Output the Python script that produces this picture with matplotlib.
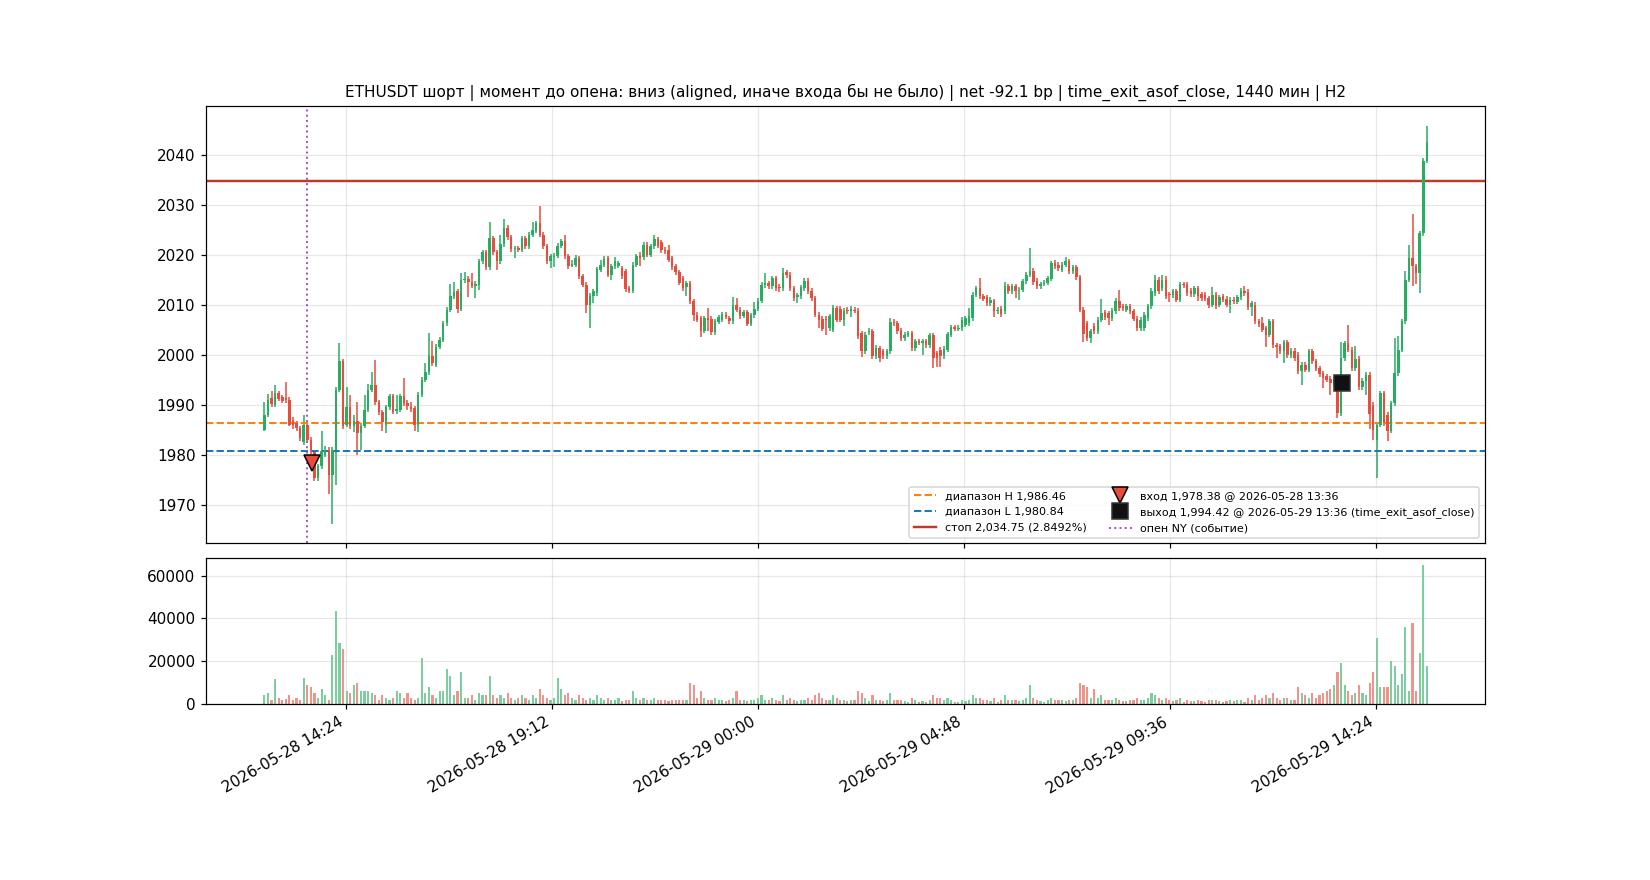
import matplotlib
matplotlib.use('Agg')
import matplotlib.pyplot as plt
import matplotlib.dates as md
import matplotlib.ticker as mt
import numpy as np
import pandas as pd

# 5-min свечи ETHUSDT
opn = [
    1985.0, 1988.0, 1991.3, 1990.0, 1992.3, 1991.5, 1991.3, 1991.0, 1986.8, 1986.3,
    1985.3, 1982.5, 1986.0, 1983.0, 1980.5, 1975.3, 1977.7, 1980.0, 1981.0, 1976.0,
    1981.0, 1993.0, 1998.7, 1986.0, 1989.5, 1985.7, 1986.7, 1984.3, 1985.8, 1989.0,
    1993.0, 1994.0, 1990.5, 1988.5, 1986.0, 1989.5, 1991.7, 1988.7, 1989.0, 1991.7,
    1990.3, 1989.5, 1989.3, 1986.0, 1992.0, 1995.0, 1996.5, 1999.8, 1998.0, 2001.6,
    2003.0, 2006.3, 2009.0, 2011.7, 2012.7, 2009.2, 2014.9, 2015.2, 2014.5, 2013.8,
    2014.0, 2018.7, 2020.5, 2017.5, 2023.3, 2020.5, 2018.7, 2022.1, 2025.3, 2023.5,
    2021.1, 2021.3, 2021.0, 2023.3, 2021.7, 2024.0, 2024.8, 2026.3, 2024.0, 2021.7,
    2018.7, 2019.5, 2019.8, 2021.8, 2022.7, 2019.7, 2017.8, 2018.0, 2019.3, 2015.7,
    2014.0, 2010.0, 2011.8, 2012.3, 2017.0, 2018.0, 2019.3, 2016.0, 2017.7, 2017.8,
    2017.3, 2016.7, 2013.3, 2012.8, 2018.0, 2019.7, 2019.5, 2022.0, 2020.0, 2021.7,
    2023.1, 2022.5, 2021.0, 2020.9, 2019.3, 2017.7, 2016.5, 2015.3, 2013.5, 2014.3,
    2010.7, 2008.0, 2007.3, 2004.8, 2007.3, 2007.2, 2004.5, 2006.6, 2007.0, 2008.0,
    2007.3, 2006.7, 2010.0, 2009.0, 2007.8, 2008.5, 2006.2, 2007.9, 2009.2, 2010.8,
    2013.9, 2014.3, 2013.7, 2015.3, 2013.6, 2013.3, 2016.5, 2016.0, 2013.3, 2011.5,
    2011.7, 2013.3, 2014.8, 2012.8, 2011.3, 2008.0, 2007.2, 2007.2, 2005.3, 2005.0,
    2009.3, 2009.2, 2007.0, 2009.0, 2008.7, 2009.0, 2008.8, 2004.3, 2000.7, 2004.5,
    2004.7, 1999.7, 2001.3, 2000.7, 1999.7, 2000.7, 2006.6, 2006.3, 2004.8, 2003.3,
    2004.0, 2004.3, 2001.3, 2002.7, 2002.4, 2002.7, 2001.9, 2003.9, 2000.3, 2001.0,
    1999.7, 2001.0, 2004.0, 2005.5, 2005.2, 2005.3, 2006.0, 2006.3, 2007.3, 2012.0,
    2013.3, 2011.7, 2011.5, 2010.3, 2010.7, 2008.7, 2009.2, 2008.7, 2013.7, 2012.7,
    2013.7, 2012.7, 2013.0, 2014.7, 2016.0, 2016.8, 2014.8, 2013.7, 2014.2, 2014.4,
    2015.2, 2018.3, 2018.0, 2017.0, 2018.0, 2018.7, 2016.7, 2017.5, 2015.5, 2009.0,
    2006.3, 2003.3, 2005.8, 2004.7, 2007.0, 2008.5, 2008.3, 2007.3, 2008.7, 2010.8,
    2009.7, 2009.0, 2009.7, 2008.7, 2007.2, 2005.3, 2005.3, 2007.3, 2009.7, 2012.3,
    2015.0, 2013.3, 2015.0, 2012.1, 2011.9, 2012.7, 2011.0, 2014.1, 2014.0, 2012.8,
    2012.1, 2013.3, 2012.1, 2012.0, 2011.3, 2010.0, 2012.0, 2010.0, 2011.7, 2011.2,
    2010.0, 2011.0, 2010.6, 2011.5, 2012.8, 2012.6, 2009.5, 2010.0, 2006.7, 2006.3,
    2005.3, 2004.0, 2006.7, 2001.9, 2001.7, 2000.7, 2002.5, 1999.9, 2000.8, 2000.0,
    1996.7, 1998.0, 1997.0, 2000.7, 1998.7, 1997.3, 1996.3, 1995.7, 1995.2, 1994.3,
    1994.7, 1988.3, 1999.3, 2002.3, 2001.0, 1997.3, 1999.2, 1993.5, 1994.8, 1996.0,
    1990.0, 1983.0, 1986.0, 1992.3, 1988.0, 1984.8, 1990.3, 1996.3, 2001.0, 2006.7,
    2015.0, 2019.3, 2017.7, 2016.3, 2024.3, 2038.8,
]
high = [
    1990.5, 1992.1, 1992.8, 1994.0, 1992.8, 1992.0, 1994.5, 1991.5, 1987.5, 1986.8,
    1985.8, 1988.0, 1986.5, 1983.5, 1981.0, 1978.2, 1984.7, 1981.7, 1981.5, 1981.5,
    1993.5, 2002.3, 1999.2, 1993.5, 1992.0, 1988.0, 1990.5, 1986.3, 1992.0, 1994.2,
    1996.5, 1999.0, 1991.0, 1989.0, 1990.0, 1992.2, 1992.2, 1992.0, 1992.2, 1995.3,
    1991.0, 1990.5, 1989.8, 1992.5, 1995.5, 1998.3, 2004.3, 2002.7, 2002.1, 2003.5,
    2006.8, 2009.5, 2014.1, 2014.5, 2013.2, 2016.3, 2016.5, 2015.7, 2016.3, 2014.7,
    2019.2, 2021.0, 2021.0, 2026.5, 2023.8, 2021.0, 2023.9, 2027.1, 2025.9, 2024.0,
    2021.8, 2021.8, 2023.8, 2023.8, 2024.5, 2026.6, 2026.8, 2029.7, 2024.5, 2022.2,
    2020.2, 2020.3, 2022.3, 2023.2, 2024.0, 2020.2, 2019.0, 2020.0, 2019.8, 2016.2,
    2014.5, 2012.3, 2013.2, 2017.6, 2019.0, 2019.7, 2019.8, 2018.2, 2019.5, 2018.8,
    2017.8, 2017.2, 2013.8, 2018.5, 2020.2, 2020.5, 2022.5, 2022.5, 2022.2, 2024.0,
    2023.6, 2023.0, 2021.5, 2022.0, 2019.8, 2018.2, 2017.0, 2015.8, 2014.8, 2014.8,
    2011.2, 2008.5, 2007.8, 2007.8, 2009.3, 2007.7, 2007.2, 2008.0, 2008.6, 2008.5,
    2007.8, 2011.5, 2011.3, 2009.5, 2009.0, 2009.0, 2008.4, 2010.5, 2011.3, 2014.5,
    2016.3, 2014.8, 2015.8, 2015.8, 2014.1, 2017.3, 2017.0, 2016.5, 2013.8, 2012.4,
    2014.0, 2015.3, 2015.3, 2013.3, 2011.8, 2008.5, 2007.7, 2007.7, 2008.2, 2010.0,
    2009.8, 2009.7, 2009.3, 2009.5, 2009.7, 2009.5, 2009.3, 2004.8, 2004.5, 2005.3,
    2005.2, 2002.0, 2001.8, 2001.2, 2001.2, 2007.3, 2007.1, 2006.8, 2005.3, 2004.5,
    2004.8, 2004.8, 2003.2, 2003.2, 2003.2, 2003.2, 2004.4, 2004.4, 2000.8, 2001.5,
    2001.7, 2004.6, 2006.0, 2006.0, 2005.9, 2007.5, 2007.8, 2009.3, 2012.5, 2013.8,
    2015.3, 2012.2, 2012.0, 2011.5, 2011.2, 2009.5, 2009.7, 2014.6, 2014.2, 2014.2,
    2014.2, 2013.5, 2015.2, 2016.5, 2021.3, 2017.3, 2015.3, 2014.6, 2014.9, 2015.8,
    2018.8, 2019.0, 2018.5, 2018.5, 2019.5, 2019.2, 2018.0, 2018.0, 2016.0, 2009.5,
    2006.8, 2005.2, 2006.3, 2007.5, 2011.2, 2009.0, 2008.8, 2009.3, 2011.3, 2013.0,
    2010.2, 2010.2, 2010.2, 2009.2, 2007.7, 2007.5, 2008.5, 2010.2, 2013.3, 2016.0,
    2015.5, 2016.0, 2015.7, 2012.6, 2013.2, 2013.2, 2014.6, 2014.6, 2014.5, 2013.3,
    2013.8, 2013.8, 2012.6, 2012.5, 2011.8, 2013.6, 2012.5, 2012.0, 2012.2, 2011.7,
    2011.5, 2011.5, 2012.0, 2013.3, 2013.7, 2013.1, 2010.8, 2010.5, 2007.2, 2007.5,
    2005.8, 2007.2, 2007.2, 2002.4, 2002.2, 2003.0, 2003.0, 2001.3, 2001.3, 2000.5,
    1998.5, 1998.5, 2001.2, 2001.2, 1999.2, 1997.8, 1996.8, 1996.2, 1995.7, 1995.5,
    1995.2, 2002.5, 2002.8, 2006.0, 2001.5, 2001.7, 1999.7, 1995.3, 1996.5, 1996.5,
    1990.5, 1986.5, 1992.8, 1992.8, 1988.5, 1990.8, 2003.3, 2003.7, 2007.2, 2016.8,
    2022.0, 2028.1, 2018.2, 2024.8, 2039.3, 2045.8,
]
low = [
    1984.8, 1987.5, 1989.6, 1989.5, 1990.8, 1990.3, 1990.4, 1985.8, 1985.2, 1984.8,
    1982.8, 1982.0, 1982.5, 1980.2, 1974.8, 1974.8, 1977.2, 1979.5, 1972.3, 1966.3,
    1974.0, 1992.5, 1985.2, 1985.5, 1985.2, 1984.5, 1980.0, 1981.0, 1985.3, 1988.5,
    1992.5, 1990.0, 1988.0, 1984.7, 1984.3, 1989.0, 1988.1, 1988.2, 1988.5, 1989.8,
    1989.0, 1988.5, 1984.7, 1984.5, 1991.5, 1994.5, 1996.0, 1997.8, 1997.5, 2001.1,
    2002.5, 2005.8, 2008.5, 2011.2, 2008.3, 2008.7, 2014.4, 2011.5, 2013.3, 2011.3,
    2013.0, 2018.2, 2017.0, 2017.0, 2020.0, 2017.0, 2018.2, 2021.6, 2023.0, 2020.6,
    2019.3, 2020.5, 2020.5, 2021.2, 2021.2, 2023.5, 2024.3, 2023.5, 2021.2, 2018.2,
    2017.3, 2017.5, 2019.3, 2021.3, 2019.2, 2017.2, 2017.5, 2017.5, 2015.2, 2013.5,
    2008.3, 2005.3, 2010.3, 2011.8, 2016.5, 2017.5, 2015.5, 2015.0, 2017.2, 2017.3,
    2015.2, 2012.6, 2012.3, 2012.3, 2017.5, 2017.8, 2019.0, 2019.5, 2019.5, 2021.2,
    2021.3, 2020.4, 2020.2, 2018.5, 2017.0, 2016.0, 2014.0, 2012.8, 2011.7, 2010.2,
    2006.8, 2006.5, 2003.6, 2004.3, 2004.7, 2004.0, 2003.9, 2006.1, 2006.5, 2007.1,
    2006.2, 2006.2, 2008.5, 2007.2, 2007.3, 2005.7, 2005.7, 2007.4, 2008.7, 2010.3,
    2013.4, 2013.2, 2013.2, 2012.8, 2012.5, 2012.8, 2015.4, 2012.8, 2010.8, 2010.3,
    2011.2, 2012.8, 2012.2, 2010.8, 2007.5, 2005.3, 2004.7, 2004.0, 2004.8, 2004.5,
    2006.5, 2006.5, 2005.8, 2008.2, 2007.6, 2008.3, 2003.2, 1999.5, 2000.2, 2004.0,
    1999.2, 1999.2, 1998.5, 1999.2, 1999.2, 2000.2, 2005.8, 2004.2, 2002.8, 2002.8,
    2003.5, 2000.8, 2000.8, 2001.9, 2000.0, 2001.4, 2001.4, 1997.3, 1997.5, 1997.5,
    1999.2, 2000.5, 2003.5, 2004.7, 2004.7, 2004.8, 2005.5, 2005.8, 2006.8, 2011.5,
    2011.2, 2010.7, 2009.8, 2009.8, 2007.5, 2008.2, 2007.6, 2008.2, 2012.2, 2012.2,
    2011.3, 2011.0, 2012.5, 2014.2, 2015.5, 2014.0, 2013.2, 2013.2, 2013.7, 2013.9,
    2014.7, 2017.2, 2016.8, 2016.5, 2017.5, 2016.2, 2016.2, 2015.0, 2008.5, 2002.6,
    2002.8, 2002.3, 2004.2, 2004.2, 2006.5, 2007.0, 2006.0, 2006.8, 2008.2, 2008.8,
    2008.8, 2008.5, 2008.2, 2006.7, 2004.8, 2004.8, 2004.8, 2006.8, 2009.2, 2011.8,
    2012.2, 2012.8, 2011.2, 2010.6, 2011.4, 2010.5, 2010.5, 2013.4, 2011.8, 2011.6,
    2011.6, 2010.7, 2010.8, 2010.7, 2009.3, 2009.5, 2009.2, 2009.5, 2010.5, 2009.5,
    2008.3, 2010.2, 2010.1, 2011.0, 2011.8, 2009.0, 2007.8, 2006.2, 2005.6, 2004.5,
    2001.5, 2003.5, 2001.4, 1999.3, 2000.2, 1998.3, 1999.4, 1999.4, 1998.8, 1996.2,
    1993.9, 1996.5, 1996.5, 1998.2, 1996.7, 1995.6, 1993.3, 1994.5, 1992.0, 1993.8,
    1987.3, 1987.7, 1998.8, 2000.5, 1996.8, 1996.8, 1993.0, 1993.0, 1992.0, 1985.2,
    1983.0, 1975.3, 1985.5, 1985.8, 1982.7, 1984.3, 1989.8, 1995.8, 2000.5, 2006.2,
    2014.5, 2013.7, 2014.1, 2012.3, 2023.8, 2038.3,
]
close = [
    1988.0, 1991.0, 1990.1, 1992.3, 1991.2, 1990.8, 1990.9, 1986.0, 1986.0, 1985.3,
    1983.3, 1986.0, 1983.0, 1980.7, 1975.3, 1977.7, 1980.7, 1981.0, 1976.0, 1981.0,
    1993.0, 1998.7, 1985.7, 1989.5, 1985.7, 1986.8, 1984.3, 1985.8, 1989.0, 1993.0,
    1994.0, 1990.5, 1988.5, 1986.5, 1989.5, 1991.7, 1988.6, 1989.2, 1991.7, 1990.3,
    1989.8, 1989.2, 1986.0, 1992.0, 1995.0, 1996.5, 1999.8, 1998.3, 2001.6, 2003.0,
    2006.3, 2009.0, 2011.7, 2012.5, 2009.1, 2014.9, 2015.2, 2014.5, 2013.8, 2014.2,
    2018.7, 2020.5, 2017.5, 2023.3, 2020.5, 2018.7, 2022.1, 2025.3, 2023.5, 2021.1,
    2021.3, 2021.0, 2023.3, 2021.7, 2024.0, 2025.0, 2026.3, 2024.0, 2021.7, 2018.7,
    2019.7, 2019.8, 2021.8, 2022.7, 2019.7, 2017.7, 2018.2, 2019.3, 2015.7, 2014.0,
    2010.0, 2011.8, 2012.7, 2017.1, 2018.0, 2019.2, 2016.0, 2017.7, 2018.7, 2018.3,
    2015.7, 2013.1, 2012.8, 2018.0, 2019.7, 2019.4, 2022.0, 2020.0, 2021.7, 2023.2,
    2021.8, 2020.9, 2020.7, 2019.0, 2017.5, 2016.5, 2014.3, 2013.3, 2014.3, 2010.7,
    2008.0, 2007.0, 2004.8, 2007.3, 2007.0, 2004.5, 2006.7, 2007.5, 2008.1, 2007.6,
    2006.7, 2010.0, 2009.0, 2007.7, 2008.5, 2006.2, 2007.9, 2009.2, 2010.8, 2014.0,
    2014.3, 2013.7, 2015.3, 2013.3, 2013.3, 2016.3, 2015.9, 2013.3, 2011.3, 2011.9,
    2013.5, 2014.8, 2012.7, 2011.3, 2008.0, 2007.0, 2005.2, 2007.0, 2007.7, 2009.3,
    2007.0, 2007.0, 2008.8, 2008.7, 2009.2, 2008.8, 2003.7, 2000.7, 2004.0, 2004.7,
    1999.7, 2001.3, 1999.3, 1999.7, 2000.7, 2006.5, 2006.3, 2004.7, 2003.3, 2004.0,
    2004.3, 2001.3, 2002.7, 2002.4, 2002.7, 2001.9, 2003.9, 1999.3, 1999.3, 1999.7,
    2001.2, 2004.1, 2005.5, 2005.2, 2005.4, 2007.0, 2007.3, 2007.7, 2012.0, 2013.3,
    2011.7, 2011.2, 2010.3, 2011.0, 2008.7, 2009.0, 2008.1, 2013.7, 2012.7, 2013.7,
    2012.7, 2013.0, 2014.7, 2016.0, 2016.8, 2014.5, 2013.7, 2014.1, 2014.4, 2015.3,
    2018.3, 2017.7, 2017.3, 2018.0, 2018.7, 2016.7, 2017.5, 2015.5, 2009.0, 2004.1,
    2003.3, 2004.7, 2004.7, 2007.0, 2008.3, 2007.5, 2007.3, 2008.8, 2010.8, 2009.3,
    2009.3, 2009.7, 2008.7, 2007.2, 2005.3, 2007.0, 2008.0, 2009.7, 2012.8, 2015.0,
    2012.7, 2015.0, 2011.7, 2011.9, 2012.7, 2011.0, 2014.1, 2013.9, 2012.3, 2012.1,
    2013.3, 2011.7, 2011.3, 2011.2, 2010.0, 2012.0, 2009.7, 2011.5, 2011.0, 2010.0,
    2011.0, 2010.7, 2011.5, 2012.8, 2012.3, 2009.5, 2010.3, 2006.7, 2006.1, 2005.0,
    2004.0, 2006.7, 2001.9, 2001.5, 2000.7, 2002.5, 1999.9, 2000.8, 1999.3, 1996.7,
    1998.0, 1997.0, 2000.7, 1998.7, 1997.2, 1996.1, 1995.3, 1995.0, 1994.3, 1995.0,
    1988.3, 1999.3, 2002.3, 2001.0, 1997.3, 1999.2, 1993.5, 1994.8, 1996.0, 1988.1,
    1985.0, 1986.0, 1992.3, 1986.3, 1984.8, 1990.3, 1996.3, 2001.0, 2006.7, 2015.0,
    2019.3, 2017.7, 2016.3, 2024.3, 2038.8, 2042.5,
]
# объём, тыс.
vol_k = [
    4, 5, 2, 11.5, 3, 2, 2.5, 4, 2, 3, 2, 12,
    9, 8, 5, 3, 7, 4, 2, 22.7, 43.3, 28.3, 25.5,
    6, 5, 9, 10, 6, 6, 6, 5, 4, 2, 4, 3, 2, 3, 6, 5, 3, 5, 3, 2, 3, 21.3,
    5, 8, 4, 3, 6, 6, 16.5, 13, 4, 6, 15, 3, 3, 4, 2, 5, 4, 4, 13, 4,
    3, 4, 3, 5, 3, 2, 3, 4, 3, 2, 4, 3, 7, 4, 3, 2,
    3, 12, 7, 4, 5, 3, 2, 4, 3, 2, 3, 2, 4, 3, 2,
    3, 2, 2, 3, 1.5, 2, 2, 6, 3, 2, 3, 2, 2, 3, 2,
    2, 2, 1.5, 2, 2, 2, 2, 2, 10, 9, 3, 6, 3, 2, 2, 3, 2, 2, 1.5, 2,
    3, 6, 2, 2, 1.5, 2, 2, 3, 4, 2, 2, 3, 2, 1.5, 4, 2, 3, 2, 1.5, 2,
    2, 3, 2, 4, 5, 3, 2, 2, 4, 3, 2, 2, 1.5, 2, 2, 6, 5, 3, 1.5, 4, 2, 2, 1.5, 2, 5,
    2, 2, 2, 1.5, 1, 3, 2, 1, 1.5, 1, 2, 4, 3, 3, 2, 3, 2, 1, 1, 2, 1.5, 2, 4, 3, 3,
    2, 2, 1.5, 3, 1, 2, 4, 2, 2, 2, 1.5, 2, 3, 9, 3, 2, 1.5, 1, 2, 3, 2, 2, 2, 1.5, 2,
    2, 3, 10, 9, 8, 3, 7, 3, 4, 2, 2, 2, 3, 2, 1.5, 1.5, 2, 2, 3, 2,
    2, 3, 5, 4, 3, 2, 3, 2, 1.5, 2, 3, 1, 2, 1.5, 1.5, 2, 1.5, 1, 2, 2, 2, 1.5, 1, 1.5, 2,
    1.5, 2, 2, 1, 3, 2, 4, 2, 3, 4, 3, 5, 3, 2, 3, 3, 2, 2, 8, 5, 4, 3, 5, 3, 4, 5, 6, 7, 9,
    15, 19,
    9, 6, 4, 5, 9, 5, 4, 10, 15, 31, 8, 8, 8, 20, 18, 9, 14, 36, 6, 38, 6, 24, 65, 18,
]

range_h = 1986.46
range_l = 1980.84
stop_px = 2034.75
entry_px, entry_t = 1978.38, '2026-05-28 13:36'
exit_px, exit_t = 1994.42, '2026-05-29 13:36'
ny_open_t = '2026-05-28 13:30'

title = ('ETHUSDT шорт | момент до опена: вниз (aligned, иначе входа бы не было) | '
         'net -92.1 bp | time_exit_asof_close, 1440 мин | H2')

o = np.array(opn); h = np.array(high); l = np.array(low); c = np.array(close)
vol = np.array(vol_k) * 1000
t = pd.date_range('2026-05-28 12:30', periods=len(c), freq='5min')
x = md.date2num(t)

GREEN = '#27ae60'
RED = '#e74c3c'
up = c >= o
col = np.where(up, GREEN, RED)

fig, (ax, axv) = plt.subplots(2, 1, sharex=True, figsize=(15, 8), dpi=110,
                              gridspec_kw=dict(height_ratios=[3, 1], hspace=0.05))

# свечи
step = 5 / 1440
ax.vlines(x, l, h, colors=col, linewidth=1.0, zorder=2)
body = np.maximum(np.abs(c - o), 0.08)
ax.bar(x, body, bottom=np.minimum(o, c), width=step * 0.7, color=col,
       linewidth=0, zorder=3)

# уровни
ax.axhline(range_h, color='tab:orange', linestyle='--', linewidth=1.3,
           label=f'диапазон H {range_h:,.2f}')
ax.axhline(range_l, color='tab:blue', linestyle='--', linewidth=1.3,
           label=f'диапазон L {range_l:,.2f}')
ax.axhline(stop_px, color='#c0392b', linewidth=1.6,
           label=f'стоп {stop_px:,.2f} (2.8492%)')

ex = md.date2num(pd.Timestamp(entry_t))
xx = md.date2num(pd.Timestamp(exit_t))
ax.plot([ex], [entry_px], marker='v', markersize=11, color=RED,
        markeredgecolor='black', linestyle='none', zorder=5,
        label=f'вход {entry_px:,.2f} @ {entry_t}')
ax.plot([xx], [exit_px], marker='s', markersize=10, color='#111111',
        markeredgecolor='#333333', linestyle='none', zorder=5,
        label=f'выход {exit_px:,.2f} @ {exit_t} (time_exit_asof_close)')
ax.axvline(md.date2num(pd.Timestamp(ny_open_t)), color='#a855c8', linestyle=':',
           linewidth=1.3, label='опен NY (событие)')

ax.set_title(title, fontsize=10)
ax.grid(True, alpha=0.3)
ax.legend(loc='lower right', ncol=2, fontsize=7.3)

# объём
axv.bar(x, vol, width=step * 0.6, color=col, alpha=0.6, linewidth=0)
axv.grid(True, alpha=0.3)

span = x[-1] - x[0]
ax.set_xlim(x[0] - 0.05 * span, x[-1] + 0.05 * span)
ax.xaxis.set_major_locator(mt.MultipleLocator(0.2))
ax.xaxis.set_major_formatter(mt.FuncFormatter(
    lambda v, p: md.num2date(round(v * 1440) / 1440).strftime('%Y-%m-%d %H:%M')))

fig.autofmt_xdate()

fig.savefig('out.png', dpi=110)
